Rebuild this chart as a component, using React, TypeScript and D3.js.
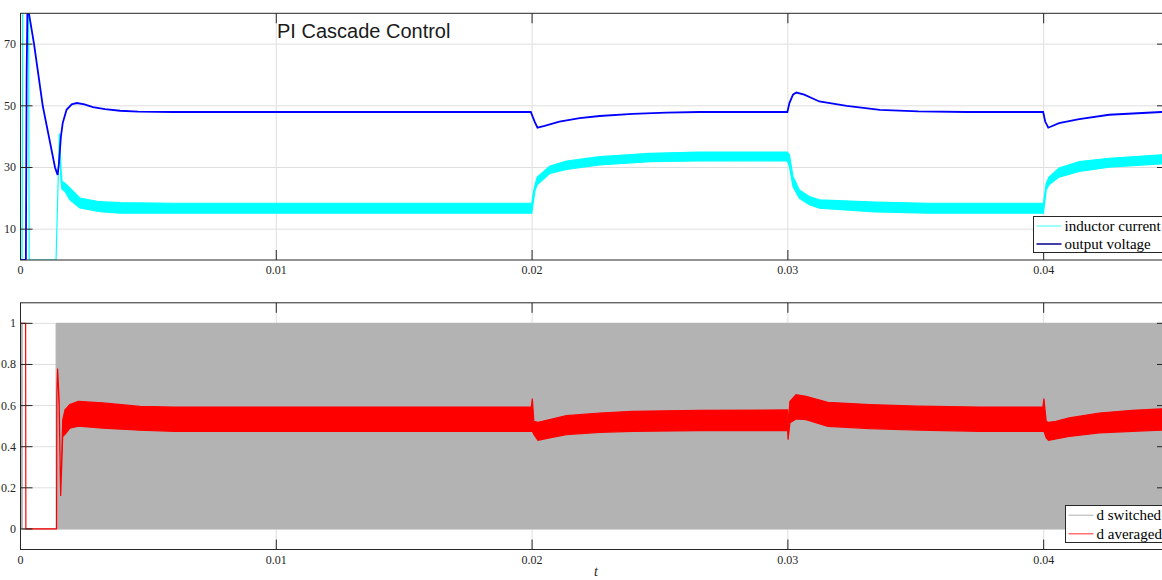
import React from "react";
import * as d3 from "d3";

const W = 1162;
const H = 580;

// x axis (time, s)
const xMax = 0.0449;
const xTicks = [0, 0.01, 0.02, 0.03, 0.04];
const xTickLabels = ["0", "0.01", "0.02", "0.03", "0.04"];

const topYTicks = [10, 30, 50, 70];
const bottomYTicks = [0, 0.2, 0.4, 0.6, 0.8, 1];
const bottomYTickLabels = ["0", "0.2", "0.4", "0.6", "0.8", "1"];

// output voltage (blue)
const voltageT = [0, 0.00021, 0.00024, 0.00028, 0.0003, 0.00033, 0.00053, 0.00087, 0.00135, 0.00145, 0.0015, 0.00158, 0.00165, 0.0018, 0.002, 0.0022, 0.0025, 0.00283, 0.0033, 0.00389, 0.0046, 0.006,
  0.01995, 0.0201, 0.02021, 0.02049, 0.02107, 0.02186, 0.02264, 0.02393, 0.02525, 0.02654,
  0.02998, 0.03006, 0.0302, 0.03033, 0.03064, 0.03123, 0.0323, 0.0336, 0.0351, 0.037,
  0.03998, 0.04006, 0.04018, 0.0406, 0.04139, 0.04256, 0.0446, 0.0449];
const voltageV = [0, 0, 60, 88, 88, 80, 70, 50, 30, 27.6, 31, 40, 44.4, 48.7, 50.5, 50.9, 50.5, 49.6, 48.9, 48.4, 48.1, 48,
  48, 44.9, 42.9, 43.5, 44.9, 46, 46.7, 47.4, 47.8, 48,
  48, 50.9, 53.6, 54.3, 53.6, 51.4, 50, 48.7, 48.2, 48,
  48, 44.9, 42.9, 44.4, 45.7, 47.1, 48, 48.1];

// inductor current ripple envelope (cyan)
const currentT = [0, 0.00006, 0.0001, 0.0003, 0.00034, 0.00139, 0.00152, 0.00158, 0.00162, 0.00174, 0.00193, 0.00232, 0.0031, 0.00389, 0.006,
  0.01999, 0.02005, 0.02012, 0.0202, 0.0207, 0.02135, 0.02264, 0.0246, 0.0265,
  0.02998, 0.03006, 0.0302, 0.03045, 0.03084, 0.03123, 0.0334, 0.0355,
  0.03999, 0.0401, 0.04021, 0.0406, 0.04139, 0.04256, 0.0446, 0.0449];
const currentHi = [0, 0, 120, 120, 0, 0, 41, 30, 25.5, 24.9, 23.4, 20.1, 18.9, 18.6, 18.4,
  18.4, 22, 24.4, 26.9, 30.5, 32.1, 33.5, 34.6, 35,
  35, 34.1, 27.1, 22.7, 20.6, 19.5, 18.8, 18.4,
  18.4, 24.9, 26.9, 29.8, 31.9, 33, 34.1, 34.3];
const currentLo = [0, 0, 120, 120, 0, 0, 41, 26, 23, 22.2, 19.5, 16.9, 15.7, 15.2, 15.2,
  15.2, 19, 22.7, 24.4, 28.1, 29.4, 30.8, 31.9, 32.1,
  32.2, 30.3, 23.8, 20, 17.9, 16.8, 15.6, 15.2,
  15.2, 22.7, 24.4, 26.9, 28.7, 30.1, 31.2, 31.4];

// d switched envelope (gray)
const dSwT = [0, 0.00007, 0.000071, 0.00139, 0.001391, 0.0449];
const dSwHi = [1, 1, 0, 0, 1, 1];
const dSwLo = [0, 0, 0, 0, 0, 0];

// d averaged ripple envelope (red)
const dAvgT = [0, 0.0002, 0.00021, 0.00141, 0.00142, 0.00145, 0.00151, 0.00157, 0.00165, 0.00174, 0.00193, 0.00226, 0.00322, 0.00467, 0.006,
  0.01997, 0.02001, 0.02007, 0.02023, 0.02069, 0.02134, 0.02264, 0.02393, 0.02654,
  0.02999, 0.030008, 0.03008, 0.03032, 0.03071, 0.03156, 0.0332, 0.0351, 0.0375,
  0.03997, 0.04001, 0.0401, 0.04019, 0.04048, 0.041, 0.04217, 0.04347, 0.0446, 0.0449];
const dAvgHi = [1, 1, 0, 0, 0.645, 0.78, 0.63, 0.16, 0.53, 0.58, 0.605, 0.62, 0.613, 0.596, 0.593,
  0.593, 0.634, 0.523, 0.519, 0.532, 0.551, 0.564, 0.572, 0.577,
  0.579, 0.5, 0.62, 0.653, 0.645, 0.616, 0.605, 0.597, 0.593,
  0.593, 0.634, 0.523, 0.519, 0.523, 0.54, 0.564, 0.577, 0.584, 0.585];
const dAvgLo = [1, 1, 0, 0, 0.645, 0.78, 0.6, 0.16, 0.45, 0.46, 0.49, 0.5, 0.49, 0.48, 0.475,
  0.475, 0.475, 0.46, 0.431, 0.443, 0.459, 0.47, 0.475, 0.478,
  0.478, 0.434, 0.516, 0.535, 0.532, 0.499, 0.488, 0.481, 0.475,
  0.475, 0.475, 0.443, 0.431, 0.438, 0.45, 0.467, 0.475, 0.48, 0.481];

const serif = "'Liberation Serif', 'Times New Roman', serif";
const axisColor = "#262626";
const gridColor = "#dfdfdf";
const left = 20.5;
const right = 1169;
const tickLen = 10;

const x = d3.scaleLinear().domain([0, xMax]).range([left, right]);

type Entry = { label: string; color: string };

function Legend({ bx, by, bh, entries }: { bx: number; by: number; bh: number; entries: Entry[] }) {
  const rowH = bh / entries.length;
  return (
    <g>
      <rect x={bx} y={by} width={160} height={bh} fill="#fff" stroke={axisColor} strokeWidth={1} />
      {entries.map((e, i) => {
        const cy = by + rowH * (i + 0.5) + 0.5;
        return (
          <g key={e.label}>
            <line x1={bx + 3} x2={bx + 28} y1={cy} y2={cy} stroke={e.color} strokeWidth={1.5} />
            <text x={bx + 31} y={cy + 5} fontFamily={serif} fontSize={15} fill="#000">{e.label}</text>
          </g>
        );
      })}
    </g>
  );
}

function Panel({ id, top, bottom, y, yTicks, yLabels, children, labelY }: any) {
  return (
    <g>
      <rect x={left} y={top} width={right - left} height={bottom - top} fill="#fff" />
      {xTicks.slice(1).map((t) => (
        <line key={"gx" + t} x1={x(t)} x2={x(t)} y1={top} y2={bottom} stroke={gridColor} />
      ))}
      {yTicks.map((v: number) => (
        <line key={"gy" + v} x1={left} x2={right} y1={y(v)} y2={y(v)} stroke={gridColor} />
      ))}
      <clipPath id={id}>
        <rect x={left} y={top} width={right - left} height={bottom - top} />
      </clipPath>
      <g clipPath={`url(#${id})`}>{children}</g>
      <rect x={left} y={top} width={right - left} height={bottom - top} fill="none" stroke={axisColor} strokeWidth={1} />
      {xTicks.map((t) => (
        <g key={"tx" + t}>
          <line x1={x(t)} x2={x(t)} y1={bottom} y2={bottom - tickLen} stroke={axisColor} />
          <line x1={x(t)} x2={x(t)} y1={top} y2={top + tickLen} stroke={axisColor} />
        </g>
      ))}
      {yTicks.map((v: number) => (
        <g key={"ty" + v}>
          <line x1={left} x2={left + tickLen + 2} y1={y(v)} y2={y(v)} stroke={axisColor} />
          <line x1={right} x2={right - tickLen - 2} y1={y(v)} y2={y(v)} stroke={axisColor} />
        </g>
      ))}
      {xTicks.map((t, i) => (
        <text key={"lx" + t} x={x(t)} y={labelY} textAnchor="middle" fontFamily={serif} fontSize={12} fill={axisColor}>
          {xTickLabels[i]}
        </text>
      ))}
      {yTicks.map((v: number, i: number) => (
        <text key={"ly" + v} x={16} y={y(v) + 4} textAnchor="end" fontFamily={serif} fontSize={12} fill={axisColor}>
          {yLabels[i]}
        </text>
      ))}
    </g>
  );
}

export default function App() {
  const yTop = d3.scaleLinear().domain([0, 80]).range([260, 13.3]);
  const yBot = d3.scaleLinear().domain([-0.1, 1.1]).range([549.5, 302.8]);

  const voltage = d3.line<number>().x((_, i) => x(voltageT[i])).y((v) => yTop(v))(voltageV) || "";
  const current = d3.area<number>()
    .x((_, i) => x(currentT[i]))
    .y0((_, i) => yTop(currentLo[i]))
    .y1((v) => yTop(v))(currentHi) || "";
  const dSw = d3.area<number>()
    .x((_, i) => x(dSwT[i]))
    .y0((_, i) => yBot(dSwLo[i]))
    .y1((v) => yBot(v))(dSwHi) || "";
  const dAvg = d3.area<number>()
    .x((_, i) => x(dAvgT[i]))
    .y0((_, i) => yBot(dAvgLo[i]))
    .y1((v) => yBot(v))(dAvgHi) || "";

  return (
    <svg width={W} height={H} style={{ position: "absolute", left: 0, top: 0, background: "#fff" }}>
      <rect width={W} height={H} fill="#fff" />
      <Panel id="clipTop" top={13.3} bottom={260} y={yTop} yTicks={topYTicks} yLabels={topYTicks.map(String)} labelY={274}>
        <path d={current} fill="#00ffff" stroke="#00ffff" strokeWidth={1.2} />
        <path d={voltage} fill="none" stroke="#0000ff" strokeWidth={1.8} />
      </Panel>
      <text x={277} y={38} fontFamily="'Liberation Sans', Arial, sans-serif" fontSize={20} fill="#1a1a1a">PI Cascade Control</text>
      <Legend bx={1033.5} by={216.5} bh={36} entries={[
        { label: "inductor current", color: "#7fffff" },
        { label: "output voltage", color: "#00008b" },
      ]} />

      <Panel id="clipBot" top={302.8} bottom={549.5} y={yBot} yTicks={bottomYTicks} yLabels={bottomYTickLabels} labelY={564}>
        <path d={dSw} fill="#b3b3b3" stroke="#b3b3b3" strokeWidth={1} />
        <path d={dAvg} fill="#ff0000" stroke="#ff0000" strokeWidth={1.2} />
      </Panel>
      <Legend bx={1065.5} by={505.5} bh={37} entries={[
        { label: "d switched", color: "#c8c8c8" },
        { label: "d averaged", color: "#ff7070" },
      ]} />
      <text x={596} y={576} textAnchor="middle" fontFamily={serif} fontStyle="italic" fontSize={14} fill={axisColor}>t</text>
    </svg>
  );
}
